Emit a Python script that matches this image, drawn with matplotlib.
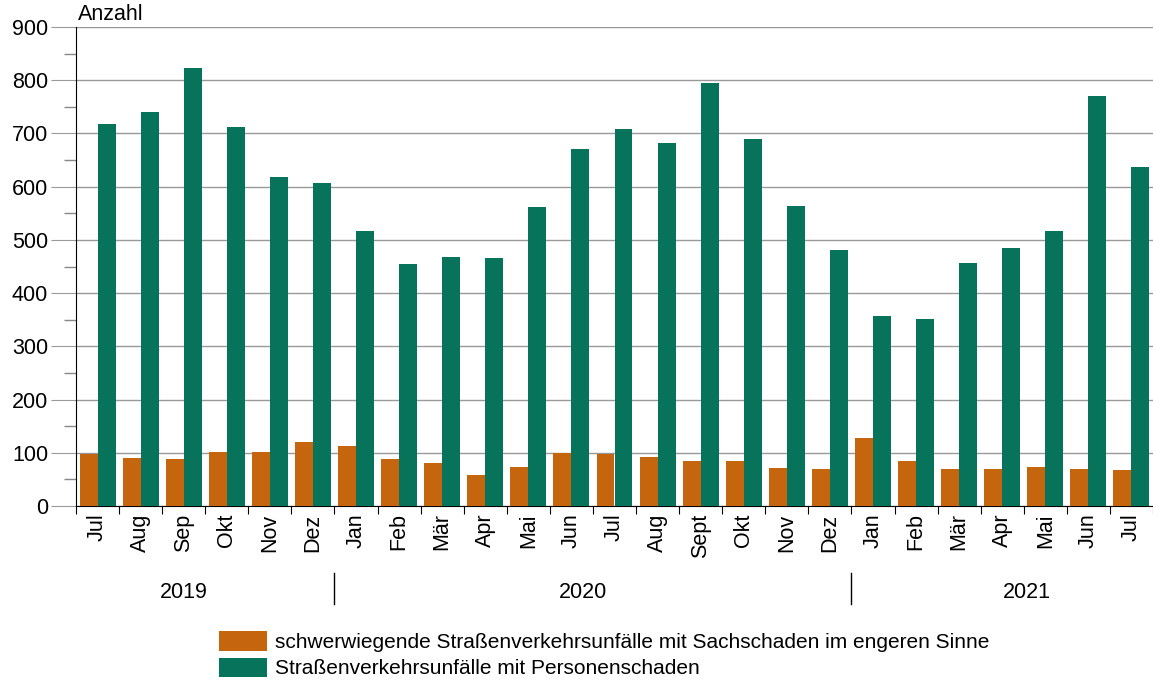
import matplotlib
matplotlib.use("Agg")
import matplotlib.pyplot as plt
from matplotlib.lines import Line2D
import numpy as np

plt.rcParams['font.family'] = ['Liberation Sans', 'DejaVu Sans']

months = ["Jul", "Aug", "Sep", "Okt", "Nov", "Dez",
          "Jan", "Feb", "Mär", "Apr", "Mai", "Jun", "Jul", "Aug", "Sept", "Okt", "Nov", "Dez",
          "Jan", "Feb", "Mär", "Apr", "Mai", "Jun", "Jul"]
sachschaden = [98, 91, 89, 101, 101, 121,
               112, 89, 80, 59, 74, 99, 97, 93, 84, 85, 72, 70,
               127, 84, 70, 70, 74, 70, 67]
personenschaden = [718, 740, 823, 712, 618, 607,
                   517, 455, 468, 466, 562, 671, 708, 682, 795, 690, 564, 481,
                   357, 351, 457, 485, 517, 770, 637]
years = ["2019", "2020", "2021"]
year_pos = [2.0, 11.28, 21.57]
year_breaks = [5.5, 17.5]

orange = "#C5660F"
green = "#06735A"
fs = 15

fig = plt.figure(figsize=(11.53, 6.83), dpi=100)
ax = fig.add_axes([76 / 1153, 1 - 506 / 683, 1 - 76 / 1153, (506 - 27) / 683])

x = np.arange(len(months))
w = 0.417
ax.bar(x - w / 2, sachschaden, width=w, color=orange, zorder=3,
       label="schwerwiegende Straßenverkehrsunfälle mit Sachschaden im engeren Sinne")
ax.bar(x + w / 2, personenschaden, width=w, color=green, zorder=3,
       label="Straßenverkehrsunfälle mit Personenschaden")

ax.set_xlim(-0.5, 24.42)
ax.set_ylim(0, 900)
ax.set_yticks(range(0, 901, 100))
ax.set_yticks(range(50, 900, 100), minor=True)
ax.grid(axis="y", color="#999999", linewidth=1, zorder=0)
ax.tick_params(axis="y", which="major", length=18, color="#999999", labelsize=fs + 0.5, pad=2)
ax.tick_params(axis="y", which="minor", length=9, color="#888888", width=1)
for s in ["top", "right"]:
    ax.spines[s].set_visible(False)
ax.spines["left"].set_color("black")
ax.spines["bottom"].set_color("black")

# month ticks on category boundaries, labels in the middle
ax.set_xticks(np.arange(-0.5, len(months), 1.0))
ax.set_xticklabels([])
ax.tick_params(axis="x", which="major", length=6, color="black")
for i, m in enumerate(months):
    ax.text(i, -14, m, rotation=90, ha="center", va="top", fontsize=fs + 0.5)

for yp, yl in zip(year_pos, years):
    ax.text(yp, -163, yl, ha="center", va="center", fontsize=fs + 0.5)
for b in year_breaks:
    ax.add_line(Line2D([b, b], [-125, -185], color="black", linewidth=1, clip_on=False))

fig.text(78 / 1153, 1 - 14 / 683, "Anzahl", fontsize=fs + 0.5, va="center", ha="left")

fig.legend(loc="upper left", bbox_to_anchor=(211 / 1153, 1 - 623 / 683), frameon=False,
           fontsize=fs, handlelength=2.3, handleheight=1.05, handletextpad=0.35,
           labelspacing=0.27, borderaxespad=0)

fig.savefig("out.png", dpi=100)
